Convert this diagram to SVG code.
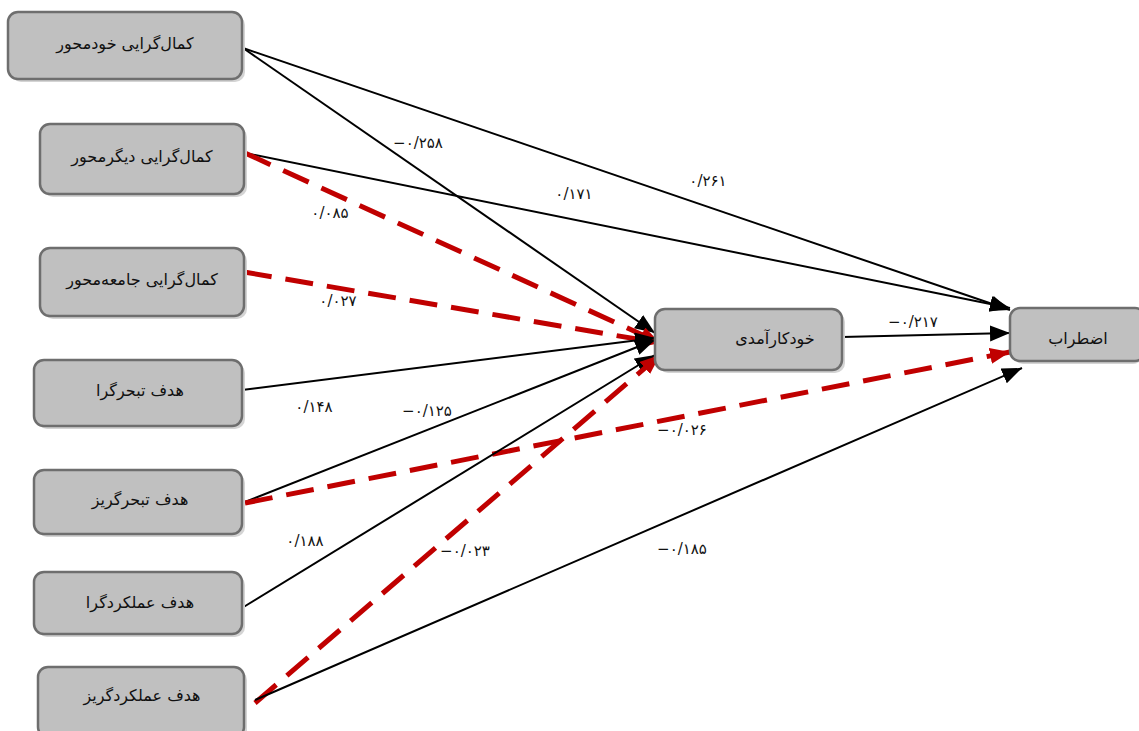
<svg xmlns="http://www.w3.org/2000/svg" width="1139" height="731" viewBox="0 0 1139 731">
<style>
.box{fill:#c0c0c0;stroke:#6e6e6e;stroke-width:2.5}
.sh{fill:#d4d4d4}
.nt{font-family:"DejaVu Sans","Noto Sans",sans-serif;font-size:16px;fill:#111;text-anchor:middle;dominant-baseline:central;direction:rtl}
.lb{font-family:"DejaVu Sans","Noto Sans",sans-serif;font-size:15px;fill:#111;text-anchor:middle;dominant-baseline:central}
.b{stroke:#000;stroke-width:2;fill:none;marker-end:url(#ab)}
.r{stroke:#c00000;stroke-width:5;fill:none;stroke-dasharray:28 14;marker-end:url(#ar)}
</style>
<defs>
<marker id="ab" markerUnits="userSpaceOnUse" markerWidth="22" markerHeight="18" refX="20" refY="8" orient="auto"><path d="M0,0 L20,8 L0,16 z" fill="#000"/></marker>
<marker id="ar" markerUnits="userSpaceOnUse" markerWidth="22" markerHeight="18" refX="20" refY="8" orient="auto"><path d="M0,0 L20,8 L0,16 z" fill="#c00000"/></marker>
</defs>
<g id="connectors">
<path class="b" d="M243,48 L1010,310"/>
<path class="b" d="M243,48 L655,333"/>
<path class="b" d="M245,153 L1010,308"/>
<path class="r" d="M245,153 L660,343"/>
<path class="r" d="M244,272 L660,343"/>
<path class="b" d="M242,390 L655,338"/>
<path class="b" d="M245,502 L655,340"/>
<path class="r" d="M245,503 L1010,352"/>
<path class="b" d="M242,608 L655,355"/>
<path class="r" d="M255,703 L660,355"/>
<path class="b" d="M255,700 L1022,368"/>
<path class="b" d="M842,337 L1010,333"/>
<text class="lb" x="708" y="181">۰/۲۶۱</text>
<text class="lb" x="418" y="143">−۰/۲۵۸</text>
<text class="lb" x="574" y="194">۰/۱۷۱</text>
<text class="lb" x="330" y="213">۰/۰۸۵</text>
<text class="lb" x="338" y="301">۰/۰۲۷</text>
<text class="lb" x="314" y="407">۰/۱۴۸</text>
<text class="lb" x="427" y="411">−۰/۱۲۵</text>
<text class="lb" x="682" y="430">−۰/۰۲۶</text>
<text class="lb" x="305" y="541">۰/۱۸۸</text>
<text class="lb" x="465" y="551">−۰/۰۲۳</text>
<text class="lb" x="682" y="549">−۰/۱۸۵</text>
<text class="lb" x="913" y="322">−۰/۲۱۷</text>
</g>
<g id="n1"><rect class="sh" x="11" y="15" width="234" height="67" rx="10"/><rect class="box" x="8" y="12" width="234" height="67" rx="10"/><text class="nt" x="125" y="43">کمال‌گرایی خودمحور</text></g>
<g id="n2"><rect class="sh" x="43" y="127" width="204" height="70" rx="10"/><rect class="box" x="40" y="124" width="204" height="70" rx="10"/><text class="nt" x="142" y="156">کمال‌گرایی دیگرمحور</text></g>
<g id="n3"><rect class="sh" x="43" y="251" width="204" height="68" rx="10"/><rect class="box" x="40" y="248" width="204" height="68" rx="10"/><text class="nt" x="142" y="279">کمال‌گرایی جامعه‌محور</text></g>
<g id="n4"><rect class="sh" x="37" y="363" width="208" height="66" rx="10"/><rect class="box" x="34" y="360" width="208" height="66" rx="10"/><text class="nt" x="140" y="390">هدف تبحرگرا</text></g>
<g id="n5"><rect class="sh" x="37" y="473" width="208" height="64" rx="10"/><rect class="box" x="34" y="470" width="208" height="64" rx="10"/><text class="nt" x="140" y="499">هدف تبحرگریز</text></g>
<g id="n6"><rect class="sh" x="37" y="575" width="208" height="62" rx="10"/><rect class="box" x="34" y="572" width="208" height="62" rx="10"/><text class="nt" x="140" y="602">هدف عملکردگرا</text></g>
<g id="n7"><rect class="sh" x="41" y="670" width="206" height="70" rx="10"/><rect class="box" x="38" y="667" width="206" height="70" rx="10"/><text class="nt" x="142" y="695">هدف عملکردگریز</text></g>
<g id="n8"><rect class="sh" x="658" y="312" width="187" height="61" rx="10"/><rect class="box" x="655" y="309" width="187" height="61" rx="10"/><text class="nt" x="775" y="338">خودکارآمدی</text></g>
<g id="n9"><rect class="sh" x="1013" y="311" width="130" height="53" rx="10"/><rect class="box" x="1010" y="308" width="135" height="53" rx="10"/><text class="nt" x="1078" y="338">اضطراب</text></g>
</svg>
